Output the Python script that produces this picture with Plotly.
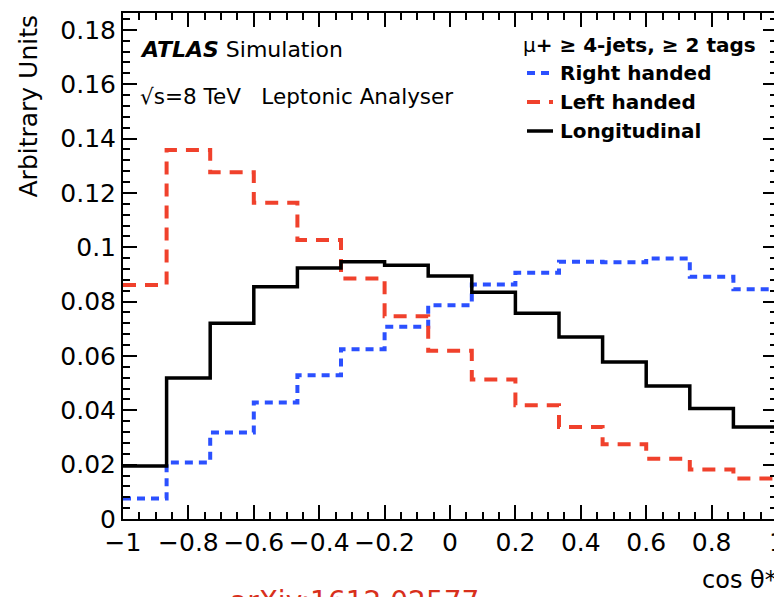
import plotly.graph_objects as go

# bin edges of cos theta* (15 bins from -1 to 1)
edges = [-1 + i * (2 / 15) for i in range(16)]

right_handed = [0.0075, 0.0208, 0.0318, 0.0429, 0.0529, 0.0625, 0.0707, 0.0787,
                0.0863, 0.0906, 0.0947, 0.0945, 0.0959, 0.0891, 0.0845]
left_handed = [0.0861, 0.1358, 0.1276, 0.1164, 0.1027, 0.0885, 0.0746, 0.0619,
               0.0513, 0.0419, 0.0339, 0.0275, 0.0222, 0.0182, 0.0149]
longitudinal = [0.0195, 0.0519, 0.0720, 0.0855, 0.0924, 0.0947, 0.0934, 0.0894,
                0.0834, 0.0757, 0.0670, 0.0578, 0.0489, 0.0407, 0.0339]

x_ticks = [-1, -0.8, -0.6, -0.4, -0.2, 0, 0.2, 0.4, 0.6, 0.8, 1]
x_tick_labels = ["\u22121", "\u22120.8", "\u22120.6", "\u22120.4", "\u22120.2", "0",
                 "0.2", "0.4", "0.6", "0.8", "1"]
y_ticks = [0, 0.02, 0.04, 0.06, 0.08, 0.1, 0.12, 0.14, 0.16, 0.18]
y_tick_labels = ["0", "0.02", "0.04", "0.06", "0.08", "0.1", "0.12", "0.14", "0.16", "0.18"]

BLUE = "#2b50ff"
RED = "#f0412c"
BLACK = "#000000"
FONT = "DejaVu Sans, sans-serif"


def step(vals):
    return list(vals) + [vals[-1]]


fig = go.Figure()
fig.add_trace(go.Scatter(x=edges, y=step(right_handed), mode="lines", line_shape="hv",
                         line=dict(color=BLUE, width=4, dash="8px,6px"), name="Right handed",
                         showlegend=False))
fig.add_trace(go.Scatter(x=edges, y=step(left_handed), mode="lines", line_shape="hv",
                         line=dict(color=RED, width=4, dash="13px,9px"), name="Left handed",
                         showlegend=False))
fig.add_trace(go.Scatter(x=edges, y=step(longitudinal), mode="lines", line_shape="hv",
                         line=dict(color=BLACK, width=3.5), name="Longitudinal",
                         showlegend=False))

# the page body has an 8px margin, so the figure is offset by 8px in the window
OFF = 8
W, H = 782 - OFF, 597 - OFF
L, R, T, B = 123 - OFF, 5, 13 - OFF, 78
pw, ph = W - L - R, H - T - B


def px(xw):
    return (xw - OFF - L) / pw


def py(yw):
    return (H - B - (yw - OFF)) / ph


axis_common = dict(showgrid=False, zeroline=False, showline=True, linecolor="black",
                   linewidth=2, mirror="ticks", ticks="inside", tickcolor="black",
                   tickwidth=1.5, automargin=False,
                   tickfont=dict(family=FONT, size=25, color="black"))

fig.update_xaxes(range=[-1, 1], tickvals=x_ticks, ticktext=x_tick_labels, ticklen=14,
                 ticklabeloverflow="allow",
                 minor=dict(ticks="inside", dtick=0.05, ticklen=7, tickcolor="black",
                            tickwidth=1.5, showgrid=False),
                 **axis_common)
fig.update_yaxes(range=[0, 0.1862], tickvals=y_ticks, ticktext=y_tick_labels, ticklen=14,
                 minor=dict(ticks="inside", dtick=0.004, ticklen=7, tickcolor="black",
                            tickwidth=1.5, showgrid=False),
                 **axis_common)

annotations = [
    dict(text="Arbitrary Units", x=px(28), y=1.0, xref="paper", yref="paper",
         textangle=-90, xanchor="center", yanchor="top", showarrow=False,
         font=dict(family=FONT, size=25, color="black")),
    dict(text="cos \u03b8*", x=px(779), y=py(580), xref="paper", yref="paper",
         xanchor="right", yanchor="middle", showarrow=False,
         font=dict(family=FONT, size=24, color="black")),
    dict(text="<b><i>ATLAS</i></b> Simulation", x=px(138), y=py(49), xref="paper",
         yref="paper", xanchor="left", yanchor="middle", showarrow=False,
         font=dict(family=FONT, size=22, color="black")),
    dict(text="\u221as=8 TeV   Leptonic Analyser", x=px(138), y=py(96), xref="paper",
         yref="paper", xanchor="left", yanchor="middle", showarrow=False,
         font=dict(family=FONT, size=21.5, color="black")),
    dict(text="\u03bc<b>+ \u2265 4-jets, \u2265 2 tags</b>", x=px(521), y=py(45),
         xref="paper", yref="paper", xanchor="left", yanchor="middle", showarrow=False,
         font=dict(family=FONT, size=20, color="black")),
    dict(text="arXiv:1612.02577", x=px(228), y=py(583), xref="paper", yref="paper",
         xanchor="left", yanchor="top", showarrow=False,
         font=dict(family=FONT, size=28, color="#d8301c")),
]

legend_rows = [("Right handed", BLUE, "8px,6px", 4, 73),
               ("Left handed", RED, "13px,9px", 4, 102),
               ("Longitudinal", BLACK, "solid", 3.5, 131)]
shapes = []
for label, col, dash, wdt, yy in legend_rows:
    annotations.append(dict(text="<b>" + label + "</b>", x=px(558), y=py(yy), xref="paper",
                            yref="paper", xanchor="left", yanchor="middle", showarrow=False,
                            font=dict(family=FONT, size=20, color="black")))
    shapes.append(dict(type="line", xref="paper", yref="paper", x0=px(527), x1=px(553),
                       y0=py(yy), y1=py(yy), line=dict(color=col, width=wdt, dash=dash)))

fig.update_layout(width=W, height=H, margin=dict(l=L, r=R, t=T, b=B),
                  plot_bgcolor="white", paper_bgcolor="white",
                  annotations=annotations, shapes=shapes, showlegend=False)

fig.write_html("out.html")
